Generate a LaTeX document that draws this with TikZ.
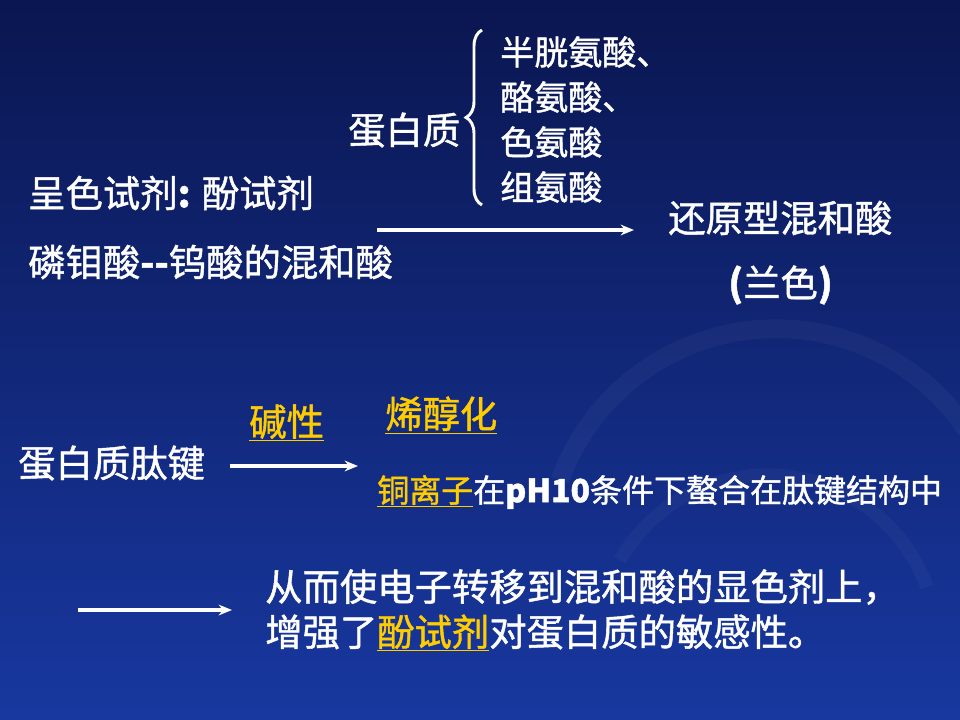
\documentclass[tikz,border=0pt]{standalone}
\usepackage{fontspec}
\setmainfont{Liberation Sans}[BoldFont={Liberation Sans Bold}]
\newfontfamily\cjk{Noto Sans CJK SC}[FakeBold=1.2]
\usetikzlibrary{decorations.pathreplacing,arrows.meta}
\definecolor{bgtop}{HTML}{0A1650}
\definecolor{bgbot}{HTML}{1838A0}
\definecolor{hl}{HTML}{FFCC00}
\newcommand{\yl}[1]{\textcolor{hl}{\underline{#1}}}
\begin{document}
\begin{tikzpicture}[x=0.75pt,y=-0.75pt,
  txt/.style={anchor=west,text=white,font=\cjk\fontsize{28}{30}\selectfont,inner sep=0pt},
  smalltxt/.style={txt,font=\cjk\fontsize{24}{27}\selectfont},
  arr/.style={-{Stealth[length=10pt,width=8pt]},white,line width=2.6pt}]
\shade[top color=bgtop,bottom color=bgbot] (0,0) rectangle (960,720);
\useasboundingbox (0,0) rectangle (960,720);
% faint swirl
\draw[white,opacity=0.035,line width=14pt] (560,480) arc[start angle=200,end angle=330,radius=230];
\draw[white,opacity=0.03,line width=10pt] (620,560) arc[start angle=210,end angle=340,radius=170];
\node[smalltxt,font=\cjk\fontsize{25.5}{28}\selectfont] (a1) at (500,52) {半胱氨酸、};
\node[smalltxt,font=\cjk\fontsize{25.5}{28}\selectfont] (a2) at (500,97) {酪氨酸、};
\node[smalltxt,font=\cjk\fontsize{25.5}{28}\selectfont] (a3) at (500,142) {色氨酸};
\node[smalltxt,font=\cjk\fontsize{25.5}{28}\selectfont] (a4) at (500,187) {组氨酸};
\coordinate (bb) at (482,205);
\coordinate (bt) at (482,30);
\draw[white,line width=2.2pt,decorate,decoration={brace,amplitude=12pt}] (bb) -- (bt);
\node[txt] (p) at (348,130) {蛋白质};
\node[txt] (r1) at (28,193) {呈色试剂{\bfseries:} 酚试剂};
\node[txt] (r2) at (28,262) {磷钼酸{\bfseries --}钨酸的混和酸};
\coordinate (ar1s) at (377,230);
\coordinate (ar1e) at (634,230);
\draw[arr] (ar1s) -- (ar1e);
\node[txt] (h1) at (668,218) {还原型混和酸};
\node[txt] (h2) at (728,285) {{\bfseries (}兰色{\bfseries )}};
\node[txt] (j) at (249,423) {\yl{碱性}};
\node[txt] (x) at (385,415) {\yl{烯醇化}};
\node[txt] (t) at (18,463) {蛋白质肽键};
\coordinate (ar2s) at (230,466);
\coordinate (ar2e) at (358,466);
\draw[arr] (ar2s) -- (ar2e);
\node[smalltxt] (c) at (377,492) {\yl{铜离子}在{\bfseries pH10}条件下螯合在肽键结构中};
\coordinate (ar3s) at (78,610);
\coordinate (ar3e) at (232,610);
\draw[arr] (ar3s) -- (ar3e);
\node[txt] (e1) at (265,587) {从而使电子转移到混和酸的显色剂上，};
\node[txt] (e2) at (265,633) {增强了\yl{酚试剂}对蛋白质的敏感性。};
\end{tikzpicture}
\end{document}
